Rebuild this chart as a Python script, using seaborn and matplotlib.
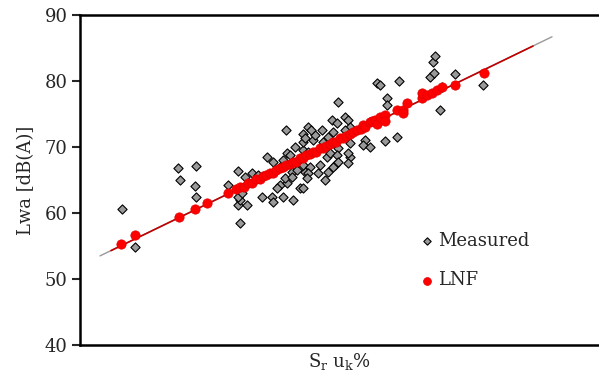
import matplotlib
matplotlib.use("Agg")
import numpy as np
import pandas as pd
import seaborn as sns
import matplotlib.pyplot as plt

# measured points (x: Sr uk% in arbitrary units, y: Lwa dB(A))
meas_x = [8.4, 11.0, 19.6, 20.0, 23.2, 23.0, 23.2, 29.6, 32.0, 31.6, 33.4, 32.0, 31.6, 32.4,
          31.6, 34.4, 33.0, 35.6, 36.4, 38.4, 38.6, 40.6, 42.6, 40.0, 39.4, 41.4, 41.0, 42.4,
          40.0, 38.6, 37.4, 41.4, 42.0, 41.2, 44.0, 44.6, 42.4, 43.4, 45.0, 47.6, 49.6, 49.0,
          43.6, 44.6, 46.0, 48.0, 51.0, 49.4, 50.0, 51.6, 54.0, 53.6, 44.6, 45.6, 43.0, 44.6,
          46.6, 48.6, 54.0, 44.6, 47.0, 45.6, 46.2, 48.4, 50.4, 51.4, 53.0, 53.6, 54.0, 51.6,
          57.0, 56.6, 58.0, 61.0, 63.4, 61.4, 61.4, 59.4, 60.0, 63.8, 72.0, 70.6, 71.0, 70.0,
          70.8, 75.0, 80.6, 72.4, 51.4, 51.6, 50.6, 40.6, 45.6, 45.4, 49.6, 45.0, 53.6, 53.0,
          50.6]
meas_y = [60.6, 54.8, 66.8, 65.0, 67.1, 64.1, 62.4, 64.2, 58.5, 61.2, 61.2, 62.0, 62.4, 63.0,
          66.4, 66.1, 65.5, 65.8, 62.4, 62.4, 61.7, 62.4, 62.0, 64.2, 63.8, 64.5, 65.3, 66.2,
          67.0, 67.7, 68.5, 69.1, 68.8, 72.6, 63.8, 63.8, 65.5, 66.5, 66.2, 66.1, 66.2, 65.0,
          67.7, 67.3, 67.0, 67.3, 67.3, 68.5, 69.1, 69.8, 68.5, 67.6, 69.5, 69.2, 70.0, 70.8,
          71.1, 70.8, 70.6, 72.0, 71.8, 73.0, 72.6, 72.6, 74.1, 73.6, 74.5, 74.1, 73.0, 76.8,
          71.1, 70.3, 70.0, 70.9, 71.5, 77.4, 76.4, 79.7, 79.4, 80.0, 75.6, 82.9, 83.8, 80.6,
          81.2, 81.1, 79.4, 79.1, 68.8, 67.7, 67.0, 68.0, 66.1, 65.3, 71.5, 71.4, 69.1, 72.6,
          72.3]

# LNF points
lnf_x = [8.2, 11.0, 19.8, 23.0, 25.4, 29.6, 31.2, 32.0, 32.8, 33.6, 34.4, 35.2, 36.0, 36.6,
         37.2, 38.0, 38.6, 39.2, 40.0, 40.6, 41.2, 42.0, 42.6, 43.2, 44.0, 44.6, 45.2, 46.0,
         46.6, 47.2, 48.0, 48.6, 49.2, 50.0, 50.6, 51.2, 52.0, 52.6, 53.2, 54.0, 54.6, 55.4,
         56.2, 56.6, 57.0, 58.0, 58.4, 59.0, 59.4, 60.0, 61.0, 61.0, 63.4, 64.6, 64.6, 65.4,
         68.4, 68.4, 69.4, 70.4, 71.4, 72.4, 75.0, 80.8]
lnf_y = [55.3, 56.7, 59.4, 60.6, 61.5, 63.0, 63.6, 63.9, 64.0, 64.5, 64.6, 65.1, 65.2, 65.6,
         65.7, 66.1, 66.1, 66.5, 66.8, 66.9, 67.3, 67.4, 67.8, 67.8, 68.3, 68.4, 68.8, 68.9,
         69.3, 69.3, 69.8, 69.9, 70.2, 70.4, 70.8, 70.8, 71.3, 71.4, 71.7, 71.9, 72.3, 72.5,
         72.7, 73.3, 73.0, 73.8, 73.9, 74.1, 73.5, 74.5, 74.8, 73.9, 75.6, 75.6, 75.2, 76.7,
         77.4, 78.2, 77.9, 78.2, 78.6, 79.1, 79.4, 81.2]

# fitted lines
trend_x = [4.0, 94.4]
trend_y = [53.5, 86.7]
lnf_line_x = [6.2, 90.6]
lnf_line_y = [54.3, 85.3]

sns.set_style("white")
plt.rcParams['font.family'] = ['DejaVu Serif']
plt.rcParams['mathtext.fontset'] = 'dejavuserif'

fig = plt.figure(figsize=(5.99, 3.80), dpi=100)
ax = fig.add_axes([80/599, 35/380, 1 - 80/599, 330/380])

sns.lineplot(x=trend_x, y=trend_y, color='#999999', linewidth=1.0, ax=ax)
sns.lineplot(x=lnf_line_x, y=lnf_line_y, color='#c00000', linewidth=1.2, ax=ax)

df_m = pd.DataFrame({'x': meas_x, 'y': meas_y})
df_l = pd.DataFrame({'x': lnf_x, 'y': lnf_y})
sns.scatterplot(data=df_m, x='x', y='y', marker='D', s=22, color='#999999',
                edgecolor='black', linewidth=0.8, label='Measured', ax=ax, zorder=3)
sns.scatterplot(data=df_l, x='x', y='y', marker='o', s=45, color='#ff0000',
                edgecolor='#e00000', linewidth=0.5, label='LNF', ax=ax, zorder=4)

ax.set_xlim(0, 103.8)
ax.set_ylim(40, 90)
ax.set_yticks([40, 50, 60, 70, 80, 90])
ax.set_xticks([])
ax.tick_params(axis='y', direction='out', length=6, width=1.5, labelsize=13, pad=3, left=True)
for side in ['left', 'top', 'bottom']:
    ax.spines[side].set_linewidth(1.8)
    ax.spines[side].set_color('black')
ax.spines['right'].set_visible(False)

ax.set_xlabel(r'S$_\mathregular{r}$ u$_\mathregular{k}$%', fontsize=13, labelpad=4)
ax.set_ylabel('Lwa [dB(A)]', fontsize=13, labelpad=7)

leg = ax.legend(loc='upper left', bbox_to_anchor=(0.637, 0.365), frameon=False, fontsize=13,
                handletextpad=0.1, labelspacing=1.2, handlelength=1.0, borderaxespad=0)
leg.legend_handles[0].set_sizes([14])
leg.legend_handles[1].set_sizes([32])

fig.savefig('out.png', dpi=100)
